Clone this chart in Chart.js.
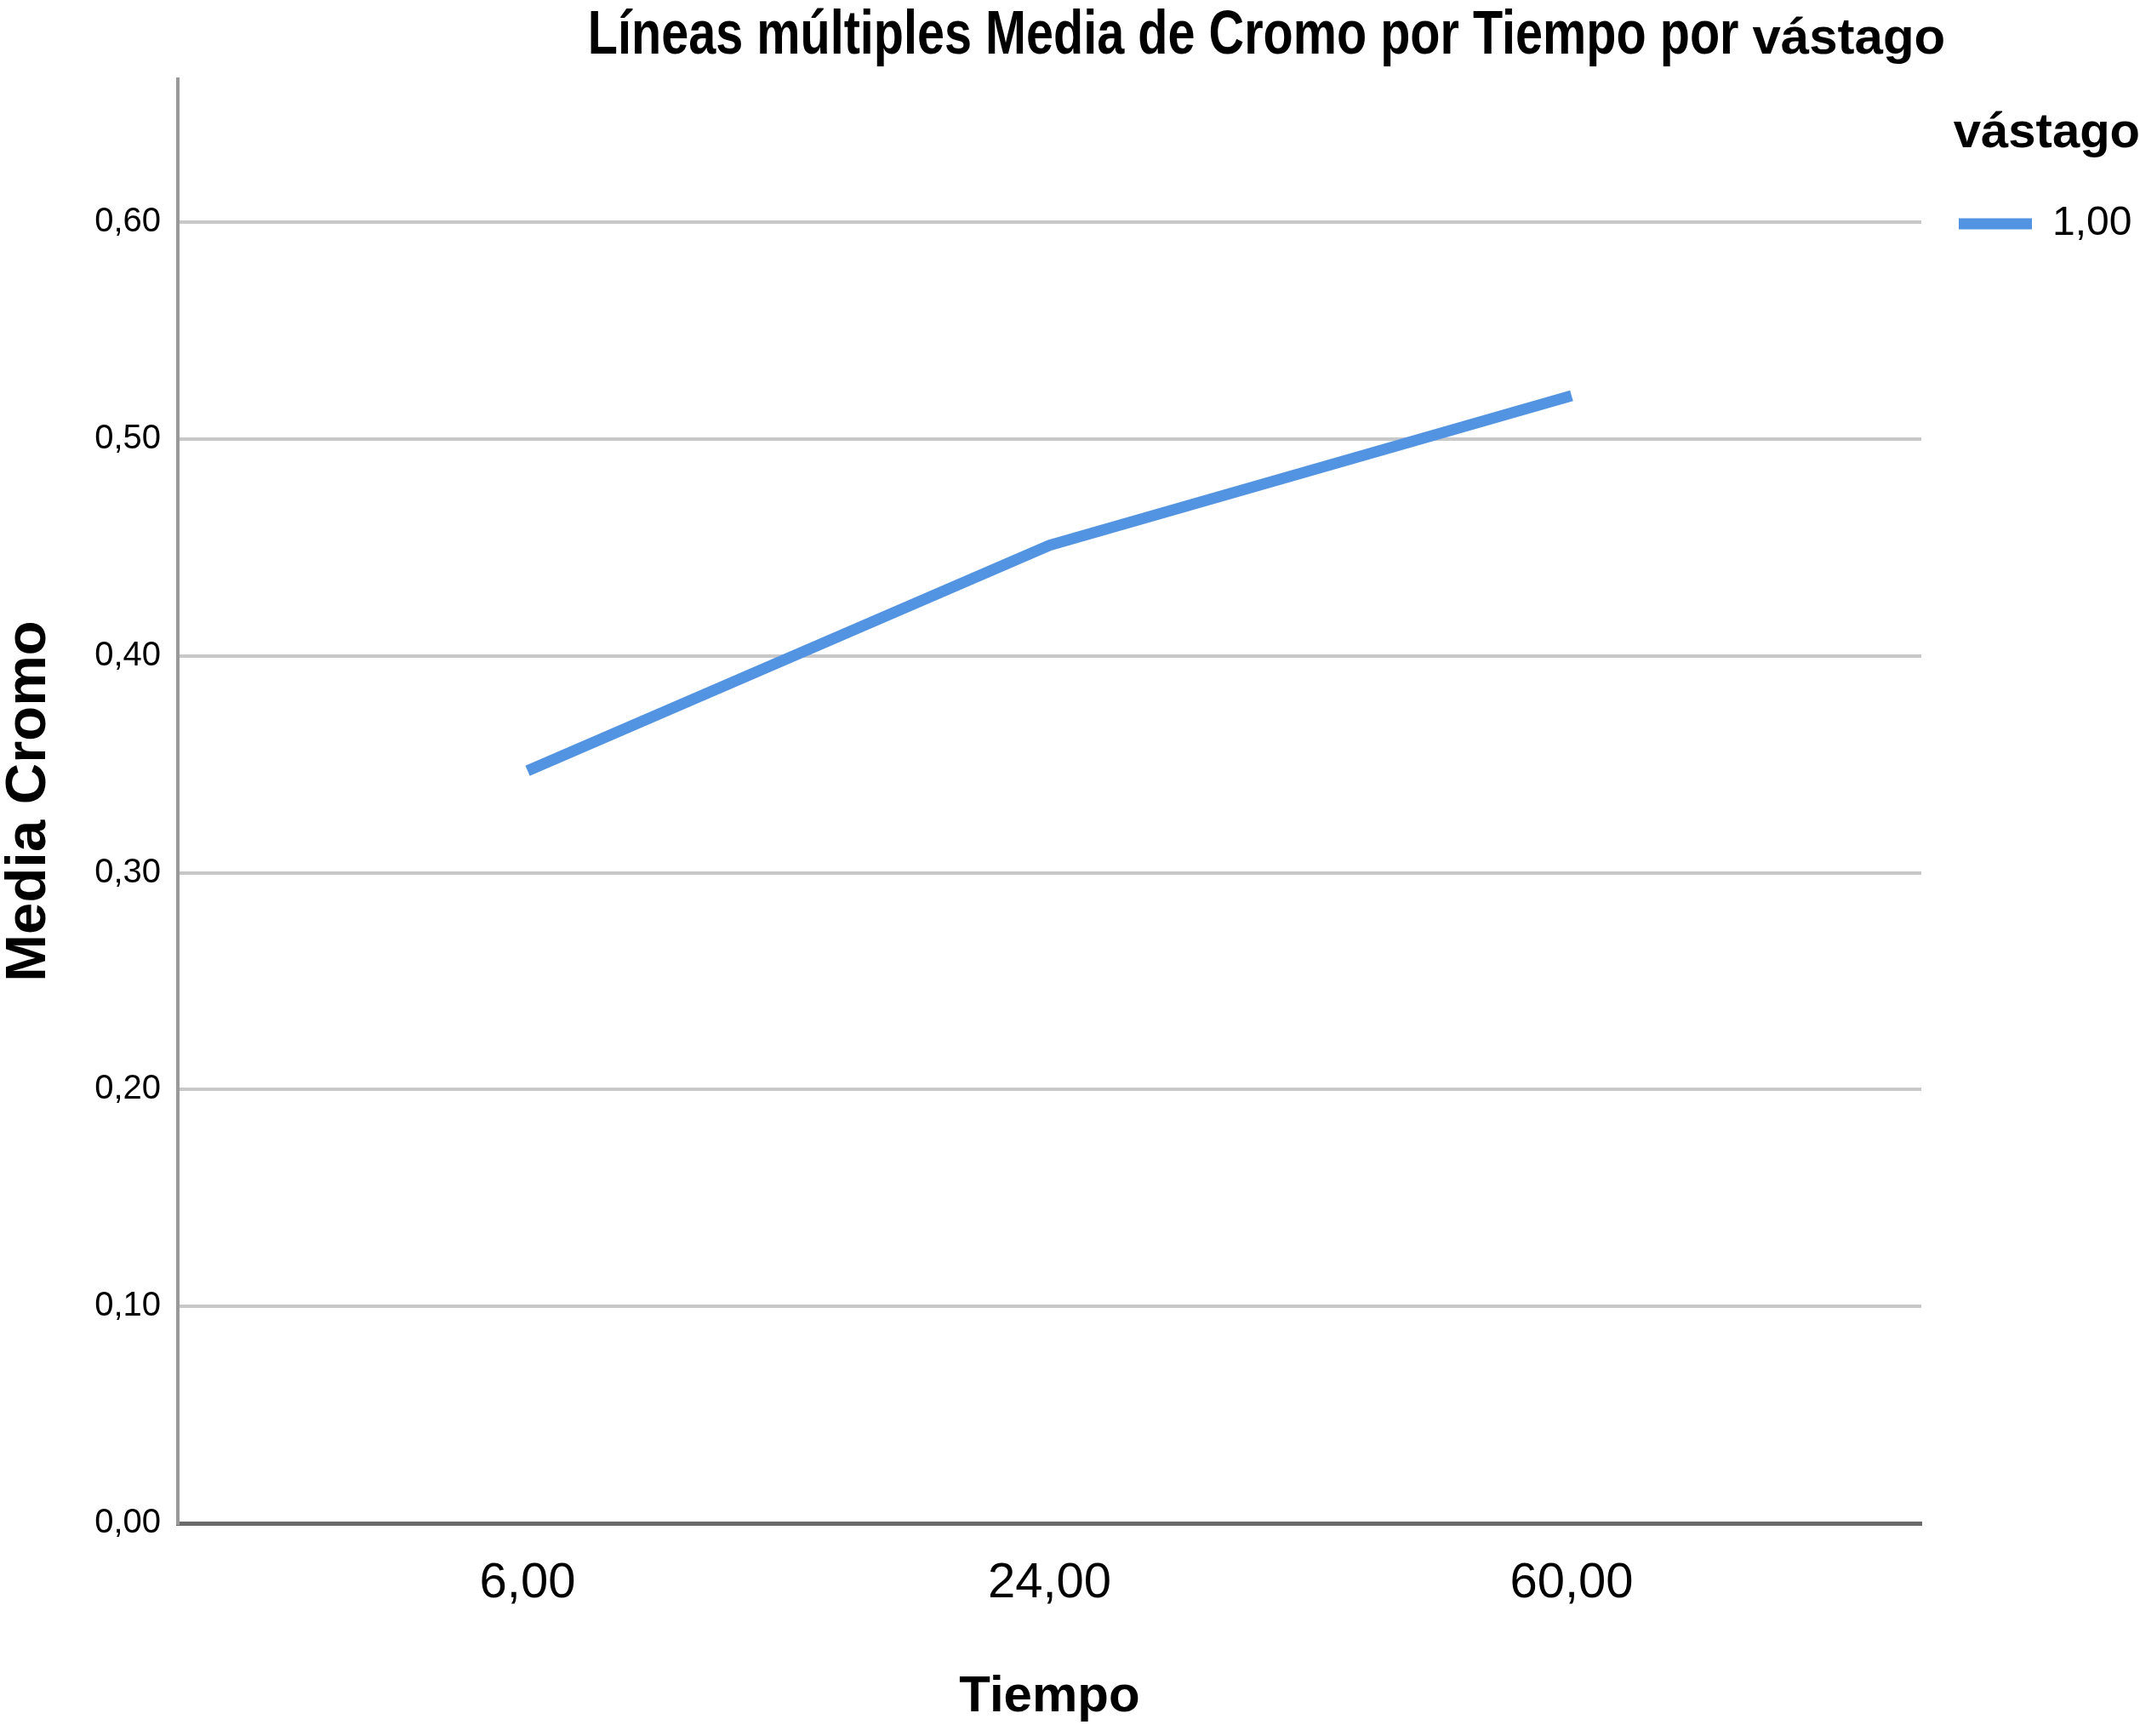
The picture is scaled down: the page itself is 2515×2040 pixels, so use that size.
<!DOCTYPE html>
<html>
<head>
<meta charset="utf-8">
<script src="https://cdn.jsdelivr.net/npm/chart.js@4"></script>
<style>
  html, body { margin: 0; padding: 0; background: #fff; }
</style>
</head>
<body>
<canvas id="myChart" width="2515" height="2040"></canvas>
<script>
// values
let tiempoLabels = ['6,00', '24,00', '60,00'];
let mediaCromo = [0.347, 0.451, 0.520];
let yTicks = [0, 0.1, 0.2, 0.3, 0.4, 0.5, 0.6];
let serieLabel = '1,00';
let legendTitle = 'vástago';
let titleMain = 'Líneas múltiples Media de Cromo por Tiempo por ';
let titleEnd = 'vástago';
let yTitle = 'Media Cromo';
let xTitle = 'Tiempo';

const sans = "'Liberation Sans', Arial, sans-serif";
const lineColor = '#5294e2';

let points = [];
for (let i = 0; i < mediaCromo.length; i++) {
    points.push({ x: i, y: mediaCromo[i] });
}

// main title: condensed bold text (squeezed), last word in normal bold
const titlePlugin = {
    id: 'spssTitle',
    afterDraw(chart) {
        const ctx = chart.ctx;
        const squeeze = 0.8;
        ctx.save();
        ctx.fillStyle = '#000';
        ctx.textBaseline = 'alphabetic';
        ctx.textAlign = 'left';
        ctx.font = 'bold 72px ' + sans;
        const w1 = ctx.measureText(titleMain).width * squeeze;
        ctx.font = 'bold 60px ' + sans;
        const w2 = ctx.measureText(titleEnd).width;
        const center = (chart.chartArea.left + chart.chartArea.right) / 2 + 255;
        const x = center - (w1 + w2) / 2;
        ctx.save();
        ctx.translate(x, 63);
        ctx.scale(squeeze, 1);
        ctx.font = 'bold 72px ' + sans;
        ctx.fillText(titleMain, 0, 0);
        ctx.restore();
        ctx.font = 'bold 60px ' + sans;
        ctx.fillText(titleEnd, x + w1, 63);
        ctx.restore();
    }
};

var ctx = document.getElementById('myChart').getContext('2d');

var myChart = new Chart(ctx, {
    type: 'line',
    data: {
        datasets: [{
            label: serieLabel,
            data: points,
            borderColor: lineColor,
            backgroundColor: lineColor,
            borderWidth: 13,
            pointRadius: 0,
            tension: 0,
            borderCapStyle: 'butt',
            borderJoinStyle: 'round'
        }]
    },
    options: {
        responsive: false,
        devicePixelRatio: 1,
        animation: false,
        layout: {
            padding: { top: 93, left: 0, right: 0, bottom: 0 }
        },
        plugins: {
            tooltip: { enabled: false },
            title: { display: false },
            legend: {
                position: 'right',
                align: 'start',
                maxWidth: 257,
                title: {
                    display: true,
                    text: legendTitle,
                    position: 'end',
                    color: '#000',
                    font: { family: sans, size: 58, weight: 'bold', lineHeight: 1 },
                    padding: { top: 35, bottom: 9 }
                },
                labels: {
                    boxWidth: 86,
                    boxHeight: 13,
                    padding: 44,
                    color: '#000',
                    font: { family: sans, size: 48 },
                    generateLabels: function (chart) {
                        let items = Chart.defaults.plugins.legend.labels.generateLabels(chart);
                        items.forEach(item => {
                            item.lineWidth = 0;
                            item.fillStyle = lineColor;
                        });
                        return items;
                    }
                }
            }
        },
        scales: {
            x: {
                type: 'linear',
                min: -0.67,
                max: 2.67,
                afterBuildTicks: s => {
                    s.ticks = tiempoLabels.map((l, i) => ({ value: i }));
                },
                afterFit: s => { s.height = 250; },
                ticks: {
                    callback: v => tiempoLabels[v],
                    color: '#000',
                    font: { family: sans, size: 58 },
                    padding: 36,
                    maxRotation: 0
                },
                grid: { display: false, drawTicks: false },
                border: { display: true, color: '#6a6a6a', width: 5 },
                title: {
                    display: true,
                    text: xTitle,
                    color: '#000',
                    font: { family: sans, size: 60, weight: 'bold', lineHeight: 1 },
                    padding: { top: 0, bottom: 16 }
                }
            },
            y: {
                min: 0,
                max: 0.666,
                afterBuildTicks: s => {
                    s.ticks = yTicks.map(v => ({ value: v }));
                },
                afterFit: s => { s.width = 209; },
                ticks: {
                    callback: v => v.toFixed(2).replace('.', ','),
                    color: '#000',
                    font: { family: sans, size: 40 },
                    padding: 20
                },
                grid: {
                    color: c => (c.tick && c.tick.value === 0) ? '#6a6a6a' : '#c8c8c8',
                    lineWidth: 4,
                    drawTicks: false
                },
                border: { color: '#999', width: 4 },
                title: {
                    display: true,
                    text: yTitle,
                    color: '#000',
                    font: { family: sans, size: 67, weight: 'bold', lineHeight: 1 },
                    padding: { top: 1, bottom: 0 }
                }
            }
        }
    },
    plugins: [titlePlugin]
});
</script>
</body>
</html>
